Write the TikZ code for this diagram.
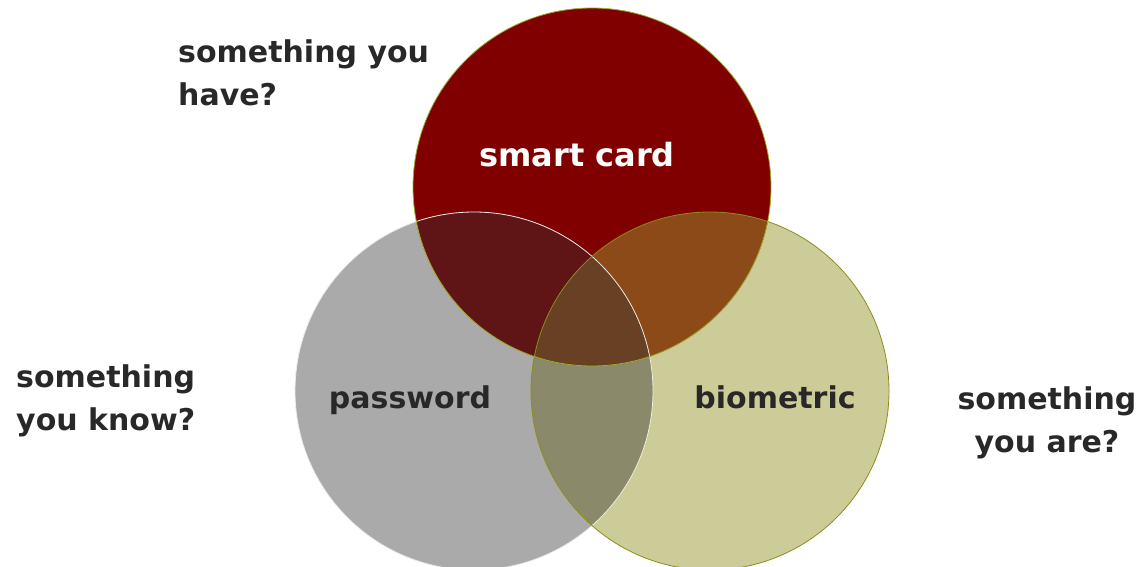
\documentclass[tikz,border=0pt]{standalone}
\usepackage{fontspec}
\setmainfont{DejaVu Sans}

\definecolor{cardred}{RGB}{128,0,0}
\definecolor{pwgray}{RGB}{170,170,170}
\definecolor{biokhaki}{RGB}{204,204,153}
\definecolor{redgray}{RGB}{95,20,22}
\definecolor{redkhaki}{RGB}{139,74,24}
\definecolor{graykhaki}{RGB}{138,138,106}
\definecolor{allthree}{RGB}{104,65,36}
\definecolor{txtgray}{RGB}{40,40,40}
\definecolor{cardrim}{RGB}{160,175,40}
\definecolor{biorim}{RGB}{140,140,30}

\tikzset{
	lbl/.style={font=\bfseries\fontsize{30}{43}\selectfont, text=txtgray, inner sep=0pt},
	rim/.style={line width=0.8pt}
}

\begin{document}
\begin{tikzpicture}[x=1pt, y=-1pt]
		\useasboundingbox (0,0) rectangle (1138,567);
		\clip (0,0) rectangle (1138,567);
		\coordinate (card) at (592,187);
		\coordinate (pw) at (474,391);
		\coordinate (bio) at (710,391);

		\fill [pwgray](pw) circle (179pt);
		\fill [biokhaki](bio) circle (179pt);
		\begin{scope}
			\clip (pw) circle (179pt);
			\fill [graykhaki](bio) circle (179pt);
		\end{scope}
		\fill [cardred](card) circle (179pt);
		\begin{scope}
			\clip (card) circle (179pt);
			\fill [redgray](pw) circle (179pt);
			\fill [redkhaki](bio) circle (179pt);
			\clip (pw) circle (179pt);
			\fill [allthree](bio) circle (179pt);
		\end{scope}
		\draw [rim, white!85!gray](pw) circle (179pt);
		\draw [rim, biorim](bio) circle (179pt);
		\draw [rim, cardrim](card) circle (179pt);

		\node (cardtxt)[lbl, font=\bfseries\fontsize{32}{43}\selectfont, text=white, anchor=base] at (577,167) {smart card};
		\node (pwtxt)[lbl, anchor=base] at (410,408) {password};
		\node (biotxt)[lbl, anchor=base] at (775,408) {biometric};

		\node (have)[lbl, align=left, anchor=north west] at (178,40) {something you\\have?};
		\node (know)[lbl, align=left, anchor=north west] at (16,365) {something\\you know?};
		\node (are)[lbl, align=center, anchor=north] at (1047,387) {something\\you are?};
	\end{tikzpicture}
\end{document}
